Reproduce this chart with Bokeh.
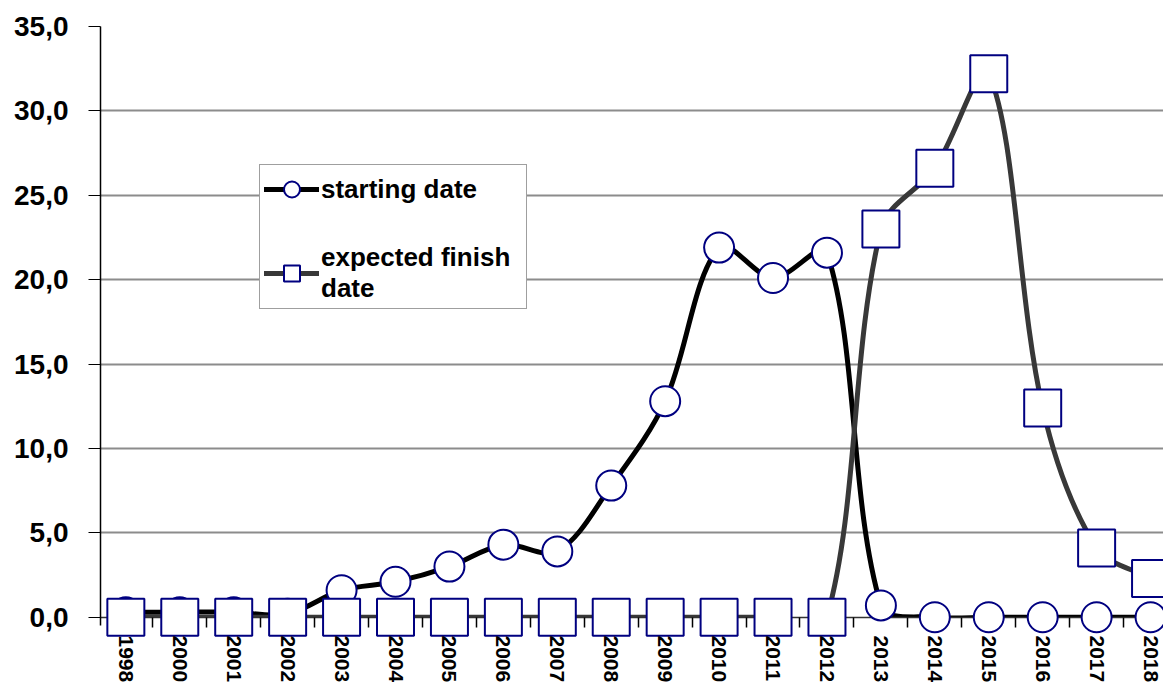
import math
from bokeh.plotting import figure
from bokeh.models import FixedTicker, Range1d, Legend, LegendItem
from bokeh.embed import file_html
from bokeh.resources import INLINE

years = ["1998", "2000", "2001", "2002", "2003", "2004", "2005", "2006", "2007", "2008",
         "2009", "2010", "2011", "2012", "2013", "2014", "2015", "2016", "2017", "2018"]
starting_date = [0.3, 0.3, 0.3, 0.2, 1.6, 2.1, 3.0, 4.3, 3.9, 7.8,
                 12.8, 21.9, 20.1, 21.6, 0.7, 0.0, 0.0, 0.0, 0.0, 0.0]
expected_finish = [0.0, 0.0, 0.0, 0.0, 0.0, 0.0, 0.0, 0.0, 0.0, 0.0,
                   0.0, 0.0, 0.0, 0.0, 23.0, 26.6, 32.2, 12.4, 4.1, 2.3]
y_ticks = [0, 5, 10, 15, 20, 25, 30, 35]
y_tick_labels = ["0,0", "5,0", "10,0", "15,0", "20,0", "25,0", "30,0", "35,0"]
series_names = ["starting date", "expected finish\ndate"]

FONT = "Liberation Sans"
xs = list(range(len(years)))
x_start, x_end = -0.47, 19.24
y_start, y_end = -1.2, 35.0
ASPECT = 53.92 / 16.96  # pixel size of one x unit relative to one y unit

p = figure(width=1163, height=685, output_backend="svg", toolbar_location=None,
           x_range=Range1d(x_start, x_end), y_range=Range1d(y_start, y_end),
           min_border_left=100, min_border_right=0, min_border_top=26, min_border_bottom=45)
p.outline_line_color = None
p.background_fill_color = "white"
p.border_fill_color = "white"


def smooth_segments(x, y):
    # chord-weighted Catmull-Rom Bezier control points (smoothed line)
    n = len(x)

    def d(i, j):
        return math.hypot((x[j] - x[i]) * ASPECT, y[j] - y[i])

    out = dict(x0=[], y0=[], x1=[], y1=[], cx0=[], cy0=[], cx1=[], cy1=[])
    for i in range(n - 1):
        im1 = max(i - 1, 0)
        ip2 = min(i + 2, n - 1)
        di = d(i, i + 1)
        dprev = d(im1, i) if i > 0 else di
        dnext = d(i + 1, ip2) if i + 2 < n else di
        f0 = di / (dprev + di) / 1.5 if (dprev + di) > 0 else 0
        f1 = di / (di + dnext) / 1.5 if (di + dnext) > 0 else 0
        tx0 = (x[i + 1] - x[im1]) if i > 0 else (x[i + 1] - x[i]) * 2
        ty0 = (y[i + 1] - y[im1]) if i > 0 else (y[i + 1] - y[i]) * 2
        tx1 = (x[ip2] - x[i]) if i + 2 < n else (x[i + 1] - x[i]) * 2
        ty1 = (y[ip2] - y[i]) if i + 2 < n else (y[i + 1] - y[i]) * 2
        out["x0"].append(x[i]); out["y0"].append(y[i])
        out["x1"].append(x[i + 1]); out["y1"].append(y[i + 1])
        out["cx0"].append(x[i] + tx0 * f0 / 2)
        out["cy0"].append(y[i] + ty0 * f0 / 2)
        out["cx1"].append(x[i + 1] - tx1 * f1 / 2)
        out["cy1"].append(y[i + 1] - ty1 * f1 / 2)
    return out


s1 = smooth_segments(xs, starting_date)
s2 = smooth_segments(xs, expected_finish)
l1 = p.bezier(line_color="#000000", line_width=5, line_cap="round", **s1)
l2 = p.bezier(line_color="#383838", line_width=5, line_cap="round", **s2)

# clip the curves at the value axis (mask the area below 0)
p.quad(left=[x_start], right=[x_end], bottom=[y_start], top=[y_ticks[0]],
       fill_color="white", line_color=None)
# category axis line at 0
p.hspan(y=[y_ticks[0]], line_color="#333333", line_width=1.5)

m1 = p.scatter(xs, starting_date, marker="circle", size=30, fill_color="white",
               line_color="#000080", line_width=2)
m2 = p.scatter(xs, expected_finish, marker="square", size=37, fill_color="white",
               line_color="#000080", line_width=2)

# y axis
p.yaxis.ticker = FixedTicker(ticks=y_ticks, minor_ticks=[])
p.yaxis.major_label_overrides = {t: lab for t, lab in zip(y_ticks, y_tick_labels)}
p.yaxis.major_label_text_font = FONT
p.yaxis.major_label_text_font_style = "bold"
p.yaxis.major_label_text_font_size = "28px"
p.yaxis.major_label_text_color = "black"
p.yaxis.major_label_standoff = 20
p.yaxis.major_tick_out = 12
p.yaxis.major_tick_in = 0
p.yaxis.major_tick_line_color = "black"
p.yaxis.axis_line_color = "black"
p.yaxis.axis_line_width = 1.5
p.yaxis.bounds = (-0.5, y_end)

# x axis (labels just below the 0 line, ticks between categories)
p.xaxis.ticker = FixedTicker(ticks=xs, minor_ticks=[i - 0.5 for i in range(len(years) + 1)])
p.xaxis.major_label_overrides = {i: yr for i, yr in zip(xs, years)}
p.xaxis.major_label_orientation = "vertical"
p.xaxis.major_label_text_font = FONT
p.xaxis.major_label_text_font_style = "bold"
p.xaxis.major_label_text_font_size = "21px"
p.xaxis.major_label_text_color = "black"
p.xaxis.major_label_standoff = -2
p.xaxis.major_tick_line_color = None
p.xaxis.major_tick_out = 0
p.xaxis.major_tick_in = 0
p.xaxis.minor_tick_line_color = "black"
p.xaxis.minor_tick_line_width = 1.5
p.xaxis.minor_tick_in = 20
p.xaxis.minor_tick_out = -10
p.xaxis.axis_line_color = None

p.xgrid.visible = False
p.ygrid.ticker = FixedTicker(ticks=y_ticks[1:], minor_ticks=[])
p.ygrid.grid_line_color = "#8c8c8c"
p.ygrid.grid_line_width = 2

legend = Legend(items=[LegendItem(label=series_names[0], renderers=[l1, m1]),
                       LegendItem(label=series_names[1], renderers=[l2, m2])],
                location=(159, 328))
legend.label_text_font = FONT
legend.label_text_font_style = "bold"
legend.label_text_font_size = "26px"
legend.label_text_color = "black"
legend.glyph_width = 55
legend.glyph_height = 40
legend.label_standoff = 2
legend.label_width = 201
legend.padding = 4
legend.spacing = 33
legend.margin = 0
legend.border_line_color = "#404040"
legend.border_line_width = 1.5
legend.background_fill_color = "white"
legend.background_fill_alpha = 1.0
p.add_layout(legend, "center")

open("out.html", "w").write(file_html(p, INLINE))
